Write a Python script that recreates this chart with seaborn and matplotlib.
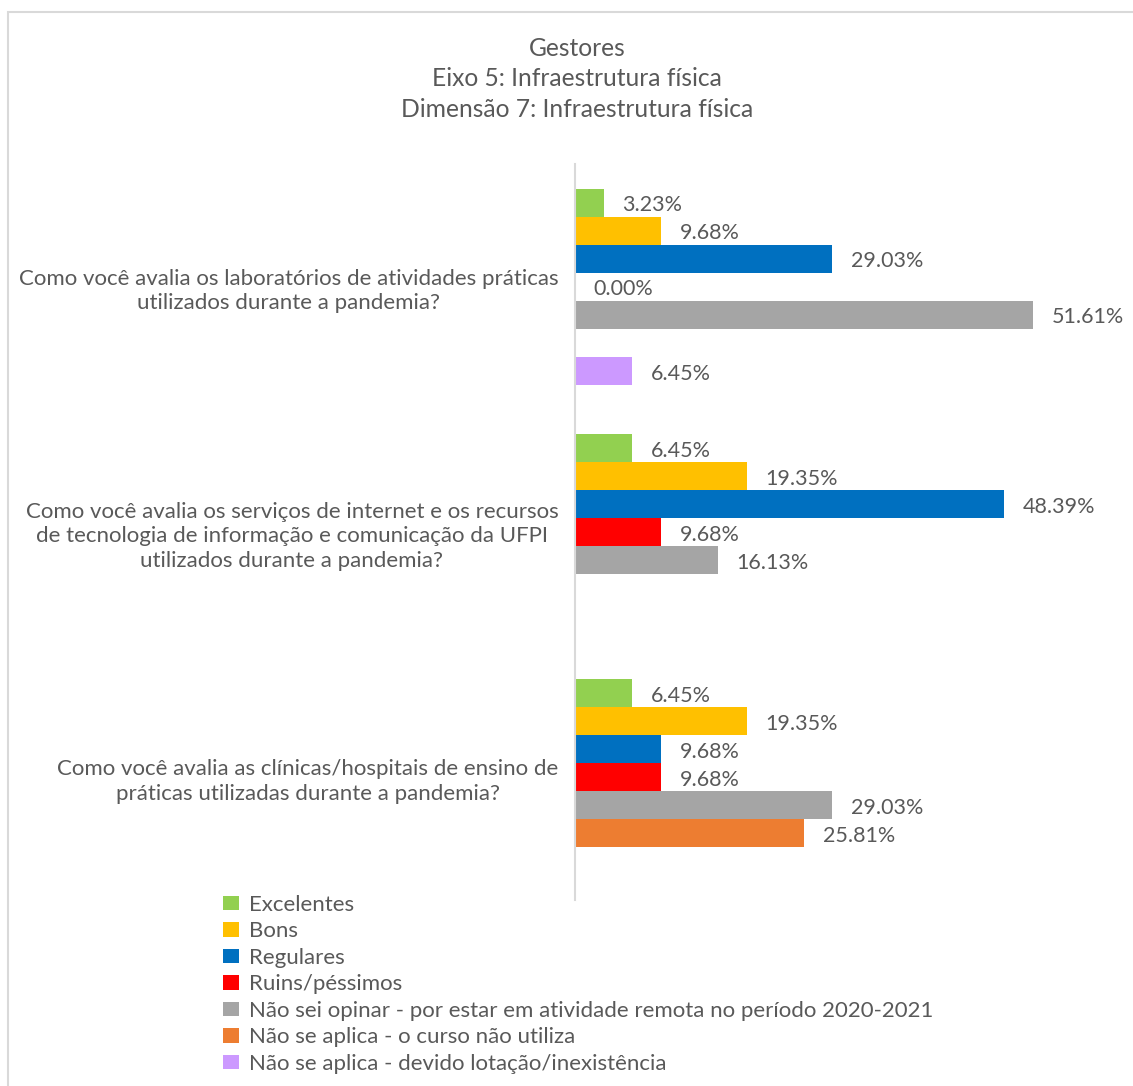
import numpy as np
import pandas as pd
import matplotlib
matplotlib.use("Agg")
import matplotlib.pyplot as plt
from matplotlib.patches import Rectangle
import seaborn as sns

questions = [
    "Como você avalia os laboratórios de atividades práticas\nutilizados durante a pandemia?",
    "Como você avalia os serviços de internet e os recursos\nde tecnologia de informação e comunicação da UFPI\nutilizados durante a pandemia?",
    "Como você avalia as clínicas/hospitais de ensino de\npráticas utilizadas durante a pandemia?",
]
series_names = [
    "Excelentes",
    "Bons",
    "Regulares",
    "Ruins/péssimos",
    "Não sei opinar - por estar em atividade remota no período 2020-2021",
    "Não se aplica - o curso não utiliza",
    "Não se aplica - devido lotação/inexistência",
]
excelentes = [3.23, 6.45, 6.45]
bons = [9.68, 19.35, 19.35]
regulares = [29.03, 48.39, 9.68]
ruins = [0.00, 9.68, 9.68]
nao_sei = [51.61, 16.13, 29.03]
nao_aplica_curso = [np.nan, np.nan, 25.81]
nao_aplica_lotacao = [6.45, np.nan, np.nan]
colors = ["#92D050", "#FFC000", "#0070C0", "#FF0000", "#A5A5A5", "#ED7D31", "#CC99FF"]

all_series = [excelentes, bons, regulares, ruins, nao_sei, nao_aplica_curso, nao_aplica_lotacao]
rows = []
for name, vals in zip(series_names, all_series):
    for q, v in zip(questions, vals):
        rows.append({"pergunta": q, "resposta": name, "pct": v})
df = pd.DataFrame(rows)

sns.set_theme(style="white")
plt.rcParams["font.family"] = ["Lato", "DejaVu Sans"]
text_color = "#595959"
line_color = "#D9D9D9"

fig = plt.figure(figsize=(11.33, 10.86), dpi=100)
ax = fig.add_axes([575 / 1133, 1 - 900 / 1086, 532 / 1133, 736 / 1086])

sns.barplot(data=df, x="pct", y="pergunta", hue="resposta",
            order=questions, hue_order=series_names, palette=colors,
            orient="h", errorbar=None, width=0.8, saturation=1,
            linewidth=0, ax=ax)

for cont in ax.containers:
    labs = ax.bar_label(cont, fmt=lambda v: "" if np.isnan(v) else f"{v:.2f}%",
                        padding=13.5, fontsize=15.5, color=text_color)
    for lab in labs:
        # Excel puts the labels a touch below the bar centre
        x0, y0 = lab.xyann
        lab.xyann = (x0, y0 - 2)

ax.set_xlim(0, 60)
ax.set_ylim(2.5, -0.5)
ax.xaxis.set_visible(False)
ax.set_ylabel("")
for s in ["top", "right", "bottom"]:
    ax.spines[s].set_visible(False)
ax.spines["left"].set_color(line_color)
ax.spines["left"].set_linewidth(1.5)
ax.tick_params(axis="y", length=0, pad=12, labelsize=16, labelcolor=text_color)
for t in ax.get_yticklabels():
    t.set_multialignment("center")
    t.set_linespacing(1.3)

handles, labels = ax.get_legend_handles_labels()
ax.get_legend().remove()
fig.legend(handles, labels, loc="upper left",
           bbox_to_anchor=(223 / 1133, 1 - 895 / 1086), frameon=False,
           fontsize=16, labelcolor=text_color, borderpad=0,
           handlelength=0.72, handleheight=0.63, handletextpad=0.45,
           labelspacing=0.29, borderaxespad=0)

fig.text(577 / 1133, 1 - 79 / 1086,
         "Gestores\nEixo 5: Infraestrutura física\nDimensão 7: Infraestrutura física",
         ha="center", va="center", ma="center", fontsize=17.7, color=text_color,
         linespacing=1.4)

fig.patches.append(Rectangle((8 / 1133, -0.1), 2, 1.1 - 12 / 1086,
                             transform=fig.transFigure, fill=False,
                             edgecolor=line_color, linewidth=1.5))

fig.savefig("out.png", dpi=100)
